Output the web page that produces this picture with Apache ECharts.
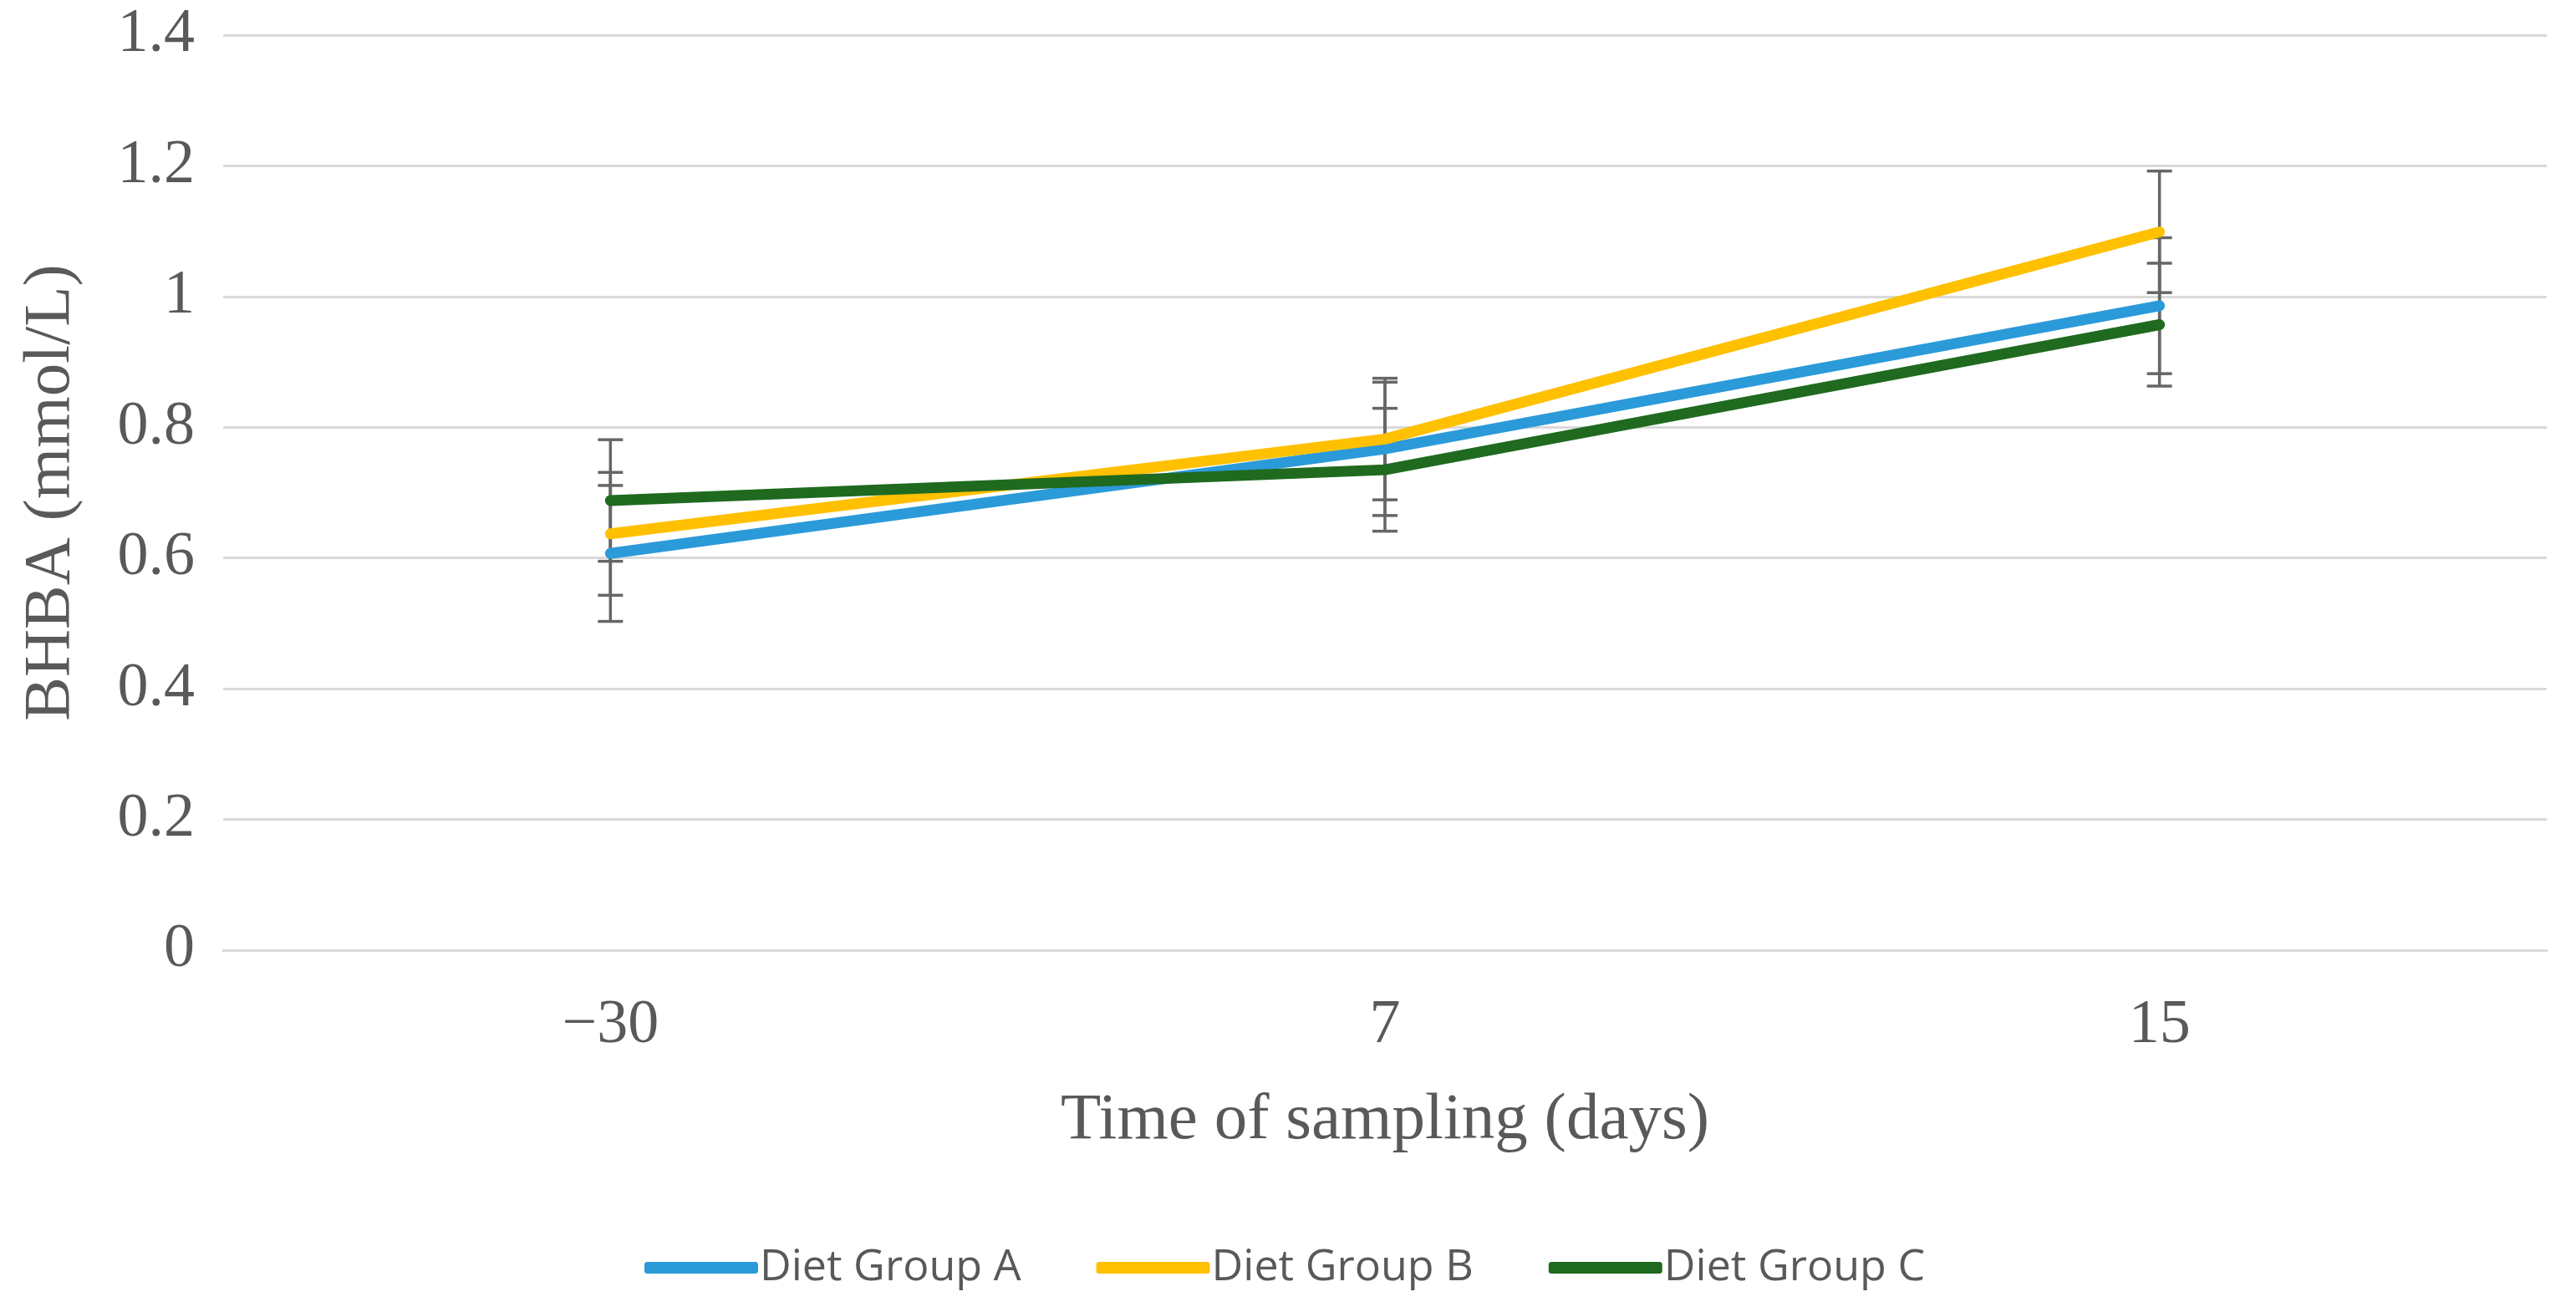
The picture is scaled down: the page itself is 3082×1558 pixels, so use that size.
<!DOCTYPE html>
<html>
<head>
<meta charset="utf-8">
<script src="https://cdn.jsdelivr.net/npm/echarts@6/dist/echarts.min.js"></script>
<style>html,body{margin:0;padding:0;background:#fff;}#c{width:3082px;height:1558px;}</style>
</head>
<body>
<div id="c"></div>
<script>
const categories = ['\u221230', '7', '15'];
const seriesNames = ['Diet Group A', 'Diet Group B', 'Diet Group C'];
const groupA = [0.607, 0.767, 0.986];
const groupB = [0.637, 0.782, 1.099];
const groupC = [0.688, 0.735, 0.957];
const errA = [0.104, 0.102, 0.104];
const errB = [0.094, 0.093, 0.093];
const errC = [0.093, 0.094, 0.094];
const colors = ['#2B9AD9', '#FFC000', '#1F6A1F'];

const values = [groupA, groupB, groupC];
const errs = [errA, errB, errC];

const chart = echarts.init(document.getElementById('c'));

const errData = [];
values.forEach((vals, s) => {
  vals.forEach((v, i) => {
    errData.push([i, v - errs[s][i], v + errs[s][i]]);
  });
});

const lineSeries = values.map((vals, s) => ({
  name: seriesNames[s],
  type: 'line',
  data: vals,
  symbol: 'none',
  z: 3 + s,
  lineStyle: { width: 13, color: colors[s], cap: 'round', join: 'round' },
  itemStyle: { color: colors[s] }
}));

const errSeries = {
  type: 'custom',
  z: 2,
  silent: true,
  data: errData,
  encode: { x: 0, y: [1, 2] },
  renderItem: function (params, api) {
    const lo = api.coord([api.value(0), api.value(1)]);
    const hi = api.coord([api.value(0), api.value(2)]);
    const hw = 15;
    const st = { stroke: '#666666', lineWidth: 3.5 };
    return {
      type: 'group',
      children: [
        { type: 'line', shape: { x1: lo[0], y1: lo[1], x2: hi[0], y2: hi[1] }, style: st },
        { type: 'line', shape: { x1: lo[0] - hw, y1: lo[1], x2: lo[0] + hw, y2: lo[1] }, style: st },
        { type: 'line', shape: { x1: hi[0] - hw, y1: hi[1], x2: hi[0] + hw, y2: hi[1] }, style: st }
      ]
    };
  }
};

chart.setOption({
  animation: false,
  color: colors,
  grid: { left: 267, right: 35, top: 42, bottom: 421 },
  legend: {
    data: seriesNames,
    bottom: 10,
    left: 766,
    itemWidth: 136,
    itemHeight: 14,
    itemGap: 90,
    icon: 'roundRect',
    textStyle: { fontFamily: 'Open Sans', fontSize: 52, color: '#595959', padding: [0, 0, 0, -3] }
  },
  xAxis: {
    type: 'category',
    data: categories,
    boundaryGap: true,
    name: 'Time of sampling (days)',
    nameLocation: 'middle',
    nameGap: 165,
    nameTextStyle: { fontFamily: 'Liberation Serif', fontSize: 79, color: '#595959' },
    axisLine: { show: true, lineStyle: { color: '#D9D9D9', width: 3 } },
    axisTick: { show: false },
    axisLabel: { margin: 54, fontFamily: 'Liberation Serif', fontSize: 74, color: '#595959' }
  },
  yAxis: {
    type: 'value',
    min: 0,
    max: 1.4,
    interval: 0.2,
    name: 'BHBA (mmol/L)',
    nameLocation: 'middle',
    nameGap: 166,
    nameTextStyle: { fontFamily: 'Liberation Serif', fontSize: 79, color: '#595959' },
    axisLine: { show: false },
    axisTick: { show: false },
    axisLabel: {
      margin: 34,
      fontFamily: 'Liberation Serif',
      fontSize: 74,
      color: '#595959',
      formatter: function (v) { return String(Math.round(v * 10) / 10); }
    },
    splitLine: { lineStyle: { color: '#D9D9D9', width: 3 } }
  },
  series: [errSeries].concat(lineSeries)
});
</script>
</body>
</html>
